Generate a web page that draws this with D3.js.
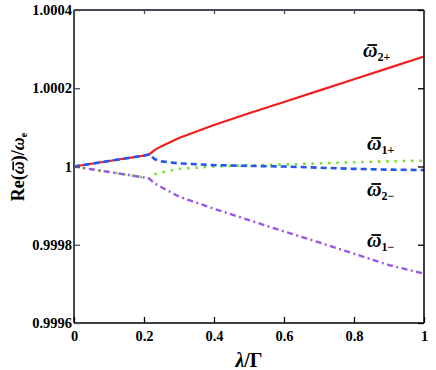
<!DOCTYPE html>
<html>
<head>
<meta charset="utf-8">
<script src="https://cdn.jsdelivr.net/npm/d3@7"></script>
<style>
  body { margin: 0; background: #fff; }
  svg text { font-family: "Liberation Serif", "DejaVu Serif", serif; font-weight: bold; }
</style>
</head>
<body>
<div id="chart"></div>
<script>
const width = 436, height = 370;
const margin = {top: 10, right: 12, bottom: 47, left: 74};

// lambda / Gamma
const lambda = [0, 0.05, 0.1, 0.15, 0.2, 0.215, 0.23, 0.25, 0.3, 0.4, 0.5, 0.6, 0.7, 0.8, 0.9, 1.0];

const w2plus  = [1, 1.000007, 1.000014, 1.000021, 1.000028, 1.000031, 1.000042, 1.000052, 1.000073, 1.000106, 1.000136, 1.000165, 1.000194, 1.000223, 1.000252, 1.000281];
const w1plus  = [1, 0.999993, 0.999986, 0.999979, 0.999972, 0.999969, 0.999980, 0.999985, 0.999994, 1.000000, 1.000003, 1.000005, 1.000008, 1.000011, 1.000013, 1.000015];
const w2minus = [1, 1.000007, 1.000014, 1.000021, 1.000028, 1.000031, 1.000019, 1.000013, 1.000008, 1.0000035, 1.0000015, 1.0, 0.999997, 0.999994, 0.999992, 0.999991];
const w1minus = [1, 0.999993, 0.999986, 0.999979, 0.999972, 0.999969, 0.999957, 0.999947, 0.999923, 0.999892, 0.999863, 0.999834, 0.999806, 0.999777, 0.999748, 0.999726];

const xTicks = [0, 0.2, 0.4, 0.6, 0.8, 1];
const xTickLabels = ["0", "0.2", "0.4", "0.6", "0.8", "1"];
const yTicks = [0.9996, 0.9998, 1, 1.0002, 1.0004];
const yTickLabels = ["0.9996", "0.9998", "1", "1.0002", "1.0004"];

const series = [
  {name: "2+", values: w2plus,  color: "#f21d1d", dash: null,          lw: 2.2, label: [363, 57]},
  {name: "1+", values: w1plus,  color: "#77e02a", dash: "2.5,5.8",     lw: 2.6, label: [367, 150]},
  {name: "2−", values: w2minus, color: "#2456ee", dash: "6,4",         lw: 2.6, label: [367, 196]},
  {name: "1−", values: w1minus, color: "#9a55ea", dash: "6,3.5,2,3.5", lw: 2.4, label: [367, 247]}
];

const svg = d3.select("#chart").append("svg")
  .attr("width", width)
  .attr("height", height);

const x = d3.scaleLinear().domain([0, 1]).range([margin.left, width - margin.right]);
const y = d3.scaleLinear().domain([0.9996, 1.0004]).range([height - margin.bottom, margin.top]);

// curves
const line = d3.line()
  .x((d, i) => x(lambda[i]))
  .y(d => y(d));

series.forEach(s => {
  svg.append("path")
    .datum(s.values)
    .attr("fill", "none")
    .attr("stroke", s.color)
    .attr("stroke-width", s.lw)
    .attr("stroke-dasharray", s.dash)
    .attr("d", line);
});

// frame with inward ticks
const x0 = x(0), x1 = x(1), y0 = y(0.9996), y1 = y(1.0004);
svg.append("line").attr("x1", x0).attr("x2", x1).attr("y1", y1).attr("y2", y1)
  .attr("stroke", "#454b54").attr("stroke-width", 2);
svg.append("line").attr("x1", x0).attr("x2", x0).attr("y1", y1).attr("y2", y0)
  .attr("stroke", "#454b54").attr("stroke-width", 2);
svg.append("line").attr("x1", x1).attr("x2", x1).attr("y1", y1).attr("y2", y0)
  .attr("stroke", "#000").attr("stroke-width", 1.5);
svg.append("line").attr("x1", x0).attr("x2", x1).attr("y1", y0).attr("y2", y0)
  .attr("stroke", "#000").attr("stroke-width", 1.5);

const bottomAxis = svg.append("g")
  .attr("transform", `translate(0,${y0})`)
  .call(d3.axisBottom(x).tickValues(xTicks).tickSizeInner(-6).tickSizeOuter(0)
    .tickFormat((d, i) => xTickLabels[i]));
bottomAxis.select(".domain").remove();
bottomAxis.selectAll("line").attr("stroke", "#000").attr("stroke-width", 1.3);
bottomAxis.selectAll("text").attr("font-size", 14.5).attr("fill", "#000").attr("y", 8).attr("dy", "0.71em");

const topAxis = svg.append("g")
  .attr("transform", `translate(0,${y1})`)
  .call(d3.axisTop(x).tickValues(xTicks).tickSizeInner(-4).tickSizeOuter(0).tickFormat(""));
topAxis.select(".domain").remove();
topAxis.selectAll("line").attr("stroke", "#454b54").attr("stroke-width", 1.3);

const leftAxis = svg.append("g")
  .attr("transform", `translate(${x0},0)`)
  .call(d3.axisLeft(y).tickValues(yTicks).tickSizeInner(-6).tickSizeOuter(0)
    .tickFormat((d, i) => yTickLabels[i]));
leftAxis.select(".domain").remove();
leftAxis.selectAll("line").attr("stroke", "#454b54").attr("stroke-width", 1.3);
leftAxis.selectAll("text").attr("font-size", 14.5).attr("fill", "#000").attr("x", -2);

const rightAxis = svg.append("g")
  .attr("transform", `translate(${x1},0)`)
  .call(d3.axisRight(y).tickValues(yTicks).tickSizeInner(-6).tickSizeOuter(0).tickFormat(""));
rightAxis.select(".domain").remove();
rightAxis.selectAll("line").attr("stroke", "#000").attr("stroke-width", 1.3);

// bar over the omega glyph at charIndex, drawn as a line next to the text
function omegaBar(g, text, charIndex, baseline, size) {
  const box = text.node().getExtentOfChar(charIndex);
  const by = baseline - 0.6 * size;
  g.append("line")
    .attr("x1", box.x + 0.22 * size)
    .attr("x2", box.x + box.width - 0.02 * size)
    .attr("y1", by).attr("y2", by)
    .attr("stroke", "#000")
    .attr("stroke-width", 0.09 * size);
}

// axis titles
const xt = svg.append("text")
  .attr("x", (x0 + x1) / 2)
  .attr("y", 367)
  .attr("text-anchor", "middle")
  .attr("font-size", 20);
xt.append("tspan").attr("font-style", "italic").text("λ");
xt.append("tspan").text("/Γ");

const yg = svg.append("g").attr("transform", "translate(24,167) rotate(-90)");
const yt = yg.append("text")
  .attr("text-anchor", "middle")
  .attr("font-size", 18);
yt.append("tspan").text("Re(");
yt.append("tspan").attr("font-style", "italic").text("ω");
yt.append("tspan").text(")/");
yt.append("tspan").attr("font-style", "italic").text("ω");
yt.append("tspan").attr("font-size", 10).attr("dy", 3).text("e");
omegaBar(yg, yt, 3, 0, 18);

// curve labels
series.forEach(s => {
  const t = svg.append("text")
    .attr("x", s.label[0])
    .attr("y", s.label[1])
    .attr("font-size", 20);
  t.append("tspan").attr("font-style", "italic").text("ω");
  t.append("tspan").attr("font-size", 12).attr("dy", 4).text(s.name);
  omegaBar(svg, t, 0, s.label[1], 20);
});
</script>
</body>
</html>
